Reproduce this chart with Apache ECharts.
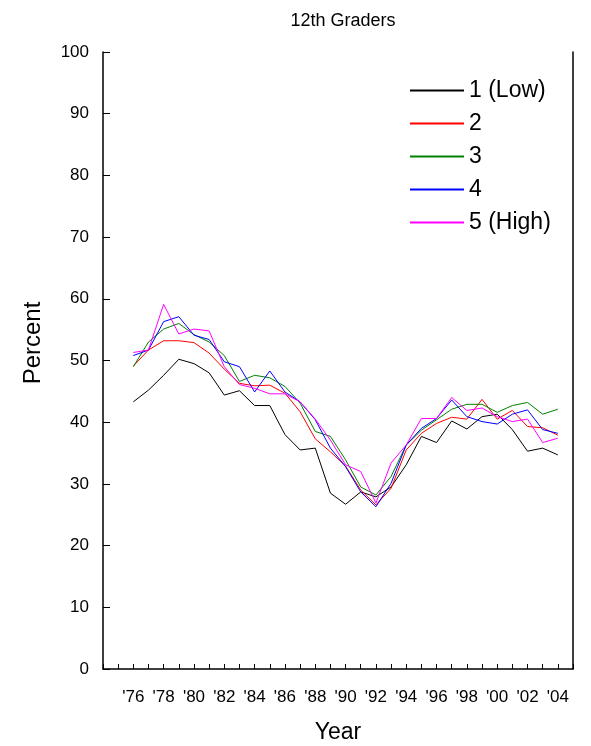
<!DOCTYPE html>
<html><head><meta charset="utf-8">
<script src="https://cdn.jsdelivr.net/npm/echarts@6/dist/echarts.min.js"></script>
<style>html,body{margin:0;padding:0;background:#fff}#c{width:591px;height:746px}</style>
</head><body><div id="c"></div>
<script>
const years = [1976,1977,1978,1979,1980,1981,1982,1983,1984,1985,1986,1987,1988,1989,1990,1991,1992,1993,1994,1995,1996,1997,1998,1999,2000,2001,2002,2003,2004];
const seriesNames = ['1 (Low)','2','3','4','5 (High)'];
const low  = [43.3,45.2,47.6,50.2,49.5,48.0,44.4,45.1,42.7,42.7,38.0,35.5,35.8,28.5,26.7,28.7,27.9,29.5,33.1,37.7,36.7,40.2,38.9,40.9,41.3,38.8,35.3,35.8,34.7];
const q2   = [49.1,51.7,53.2,53.2,52.9,51.2,48.6,46.3,45.9,46.0,44.7,41.7,37.3,35.2,32.9,29.0,26.6,29.3,35.5,38.2,39.8,40.8,40.5,43.7,40.5,41.9,39.3,39.1,37.9];
const q3   = [49.0,53.0,55.1,56.0,54.2,53.0,50.8,46.6,47.6,47.2,45.8,43.1,38.5,37.7,33.9,29.5,28.2,31.2,36.3,38.7,40.4,42.1,42.9,42.9,41.6,42.7,43.2,41.3,42.1];
const q4   = [50.8,51.7,56.3,57.1,54.1,53.4,49.8,49.0,44.9,48.3,44.9,43.3,40.4,35.8,32.8,28.7,26.3,30.1,36.3,39.0,40.6,43.6,40.9,40.1,39.7,41.3,42.0,38.8,38.2];
const high = [51.3,51.7,59.1,54.3,55.1,54.8,49.0,46.1,45.5,44.6,44.6,43.3,40.5,37.1,33.1,32.0,26.9,33.4,36.3,40.6,40.6,44.0,41.9,42.3,40.9,40.1,40.5,36.7,37.4];
const yTicks = [0,10,20,30,40,50,60,70,80,90,100];
const colors = ['#000000','#ff0000','#008000','#0000ff','#ff00ff'];
const values = [low,q2,q3,q4,high];

const font = 'Liberation Sans, Arial, sans-serif';
const chart = echarts.init(document.getElementById('c'));
chart.setOption({
  animation:false,
  backgroundColor:'#fff',
  title:{text:'12th Graders',left:338,top:7,textAlign:'center',textStyle:{fontFamily:font,fontSize:18,fontWeight:'normal',color:'#000'}},
  legend:{
    orient:'vertical',left:409,top:79,padding:0,itemWidth:54,itemHeight:14,itemGap:10,
    itemStyle:{opacity:0},
    textStyle:{fontFamily:font,fontSize:23,color:'#000'},
    data:seriesNames
  },
  grid:{left:103,right:18,top:52,bottom:77},
  graphic:[
    {type:'text',x:33,y:343,rotation:Math.PI/2,style:{text:'Percent',fontFamily:font,fontSize:24,fill:'#000',align:'center',verticalAlign:'middle'}},
    {type:'text',x:338,y:733,style:{text:'Year',fontFamily:font,fontSize:23,fill:'#000',align:'center',verticalAlign:'middle'}}
  ],
  xAxis:{
    type:'value',min:1974,max:2005,interval:1,
    axisLine:{show:true,lineStyle:{color:'#000',width:1.5}},
    axisTick:{show:true,inside:true,length:5,lineStyle:{color:'#000'}},
    axisLabel:{fontFamily:font,fontSize:17,color:'#000',margin:20,
      formatter:v=>(v>=1976&&v<=2004&&v%2===0)?"'"+String(v).slice(2):''},
    splitLine:{show:false}
  },
  yAxis:[{
    type:'value',min:0,max:100,interval:10,
    axisLine:{show:true,lineStyle:{color:'#000',width:1.5}},
    axisTick:{show:true,inside:true,length:7,lineStyle:{color:'#000'}},
    axisLabel:{fontFamily:font,fontSize:17,color:'#000',margin:14,
      formatter:v=>yTicks.includes(v)?String(v):''},
    splitLine:{show:false}
  },{
    type:'value',min:0,max:100,position:'right',
    axisLine:{show:true,lineStyle:{color:'#000',width:1.5}},
    axisTick:{show:false},axisLabel:{show:false},splitLine:{show:false}
  }],
  series:values.map((v,i)=>({
    name:seriesNames[i],type:'line',symbol:'none',showSymbol:false,
    data:years.map((y,j)=>[y,v[j]]),
    lineStyle:{color:colors[i],width:1},itemStyle:{color:colors[i]},
    emphasis:{disabled:true}
  }))
});
</script></body></html>
